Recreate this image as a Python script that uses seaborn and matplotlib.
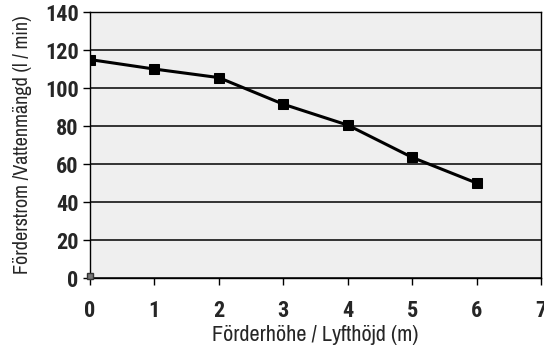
import pandas as pd
import seaborn as sns
import matplotlib.pyplot as plt

# values
hoehe = [0, 1, 2, 3, 4, 5, 6]
strom = [115, 110, 105.5, 91.5, 80.5, 63.5, 50]
extra_x = [0]
extra_y = [1]
xticks = list(range(0, 8))
yticks = list(range(0, 141, 20))

df = pd.DataFrame({'hoehe': hoehe, 'strom': strom})

sns.set_style('white')
plt.rcParams['font.family'] = ['Archivo Narrow', 'Roboto Condensed', 'DejaVu Sans']

fig = plt.figure(figsize=(5.44, 3.53), dpi=100)
ax = fig.add_axes([0.165, 0.212, 0.83, 0.754])
ax.set_facecolor('#efefef')

sns.lineplot(x='hoehe', y='strom', data=df, ax=ax, color='black', linewidth=2.2,
             marker='s', markersize=7, markeredgecolor='black', zorder=3)
ax.plot(extra_x, extra_y, marker='s', markersize=4, color='#777777',
        markeredgecolor='#333333', linestyle='none', zorder=3, clip_on=False)

ax.set_xlim(0, 7)
ax.set_ylim(0, 140)
tickfont = dict(family=['Roboto Condensed', 'DejaVu Sans'], weight='bold', size=16)
ax.set_xticks(xticks, labels=[str(v) for v in xticks], fontdict=tickfont)
ax.set_yticks(yticks, labels=[str(v) for v in yticks], fontdict=tickfont)
ax.yaxis.grid(True, color='black', linewidth=1.1)
ax.set_axisbelow(True)
for s in ax.spines.values():
    s.set_color('black')
    s.set_linewidth(1.0)

ax.tick_params(axis='both', direction='out', length=5, width=1, color='black',
               pad=3, left=True, bottom=True)
ax.tick_params(axis='x', pad=11)

ax.set_xlabel('Förderhöhe / Lyfthöjd (m)', fontsize=16, labelpad=2)
ax.set_ylabel('Förderstrom /Vattenmängd (l / min)', fontsize=14.5, labelpad=9)

fig.savefig('out.png', dpi=100)
